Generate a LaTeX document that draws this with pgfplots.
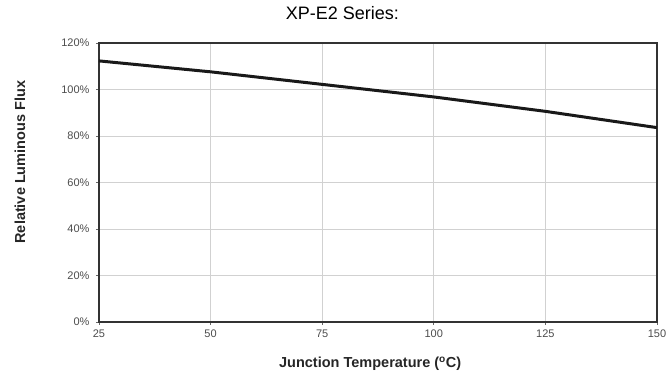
\documentclass[border=0pt]{standalone}
\usepackage{pgfplots}
\pgfplotsset{compat=1.18}
\usepackage{fontspec}
\setmainfont{Liberation Sans}
\begin{document}
\begin{tikzpicture}
\begin{axis}[
  name=ax,
  at={(0,0)}, anchor=south west,
  scale only axis,
  width=558pt, height=279pt,
  xmin=25, xmax=150, ymin=0, ymax=120,
  xtick={25,50,75,100,125,150},
  ytick={0,20,40,60,80,100,120},
  yticklabel={\pgfmathprintnumber{\tick}\%},
  /pgf/number format/assume math mode=true,
  grid=major,
  major grid style={draw=black!18, line width=0.9pt},
  axis line style={draw=black!80, line width=1.1pt},
  tick style={draw=black!60, line width=0.8pt},
  major tick length=3pt,
  tick align=outside,
  xtick pos=bottom, ytick pos=left,
  ticklabel style={font=\fontsize{11}{12}\selectfont, text=black!70},
  xticklabel style={yshift=-1pt},
  yticklabel style={xshift=-3pt},
  xlabel={\textbf{Junction Temperature (\textsuperscript{o}C)}},
  ylabel={\textbf{Relative Luminous Flux}},
  label style={font=\fontsize{14.5}{16}\selectfont, text=black!85},
  xlabel style={at={(axis description cs:0.486,-0.149)}, anchor=center},
  ylabel style={at={(axis description cs:-0.1416,0.573)}, anchor=center},
  title={XP-E2 Series:},
  title style={font=\fontsize{18}{20}\selectfont, at={(axis description cs:0.436,1.084)}, anchor=center},
]
\addplot[black!90, line width=3pt] coordinates {
(25,112.3) (50,107.6) (75,102.2) (100,96.8) (125,90.6) (150,83.6)
};
\end{axis}
\pgfresetboundingbox
\path (ax.south west) ++(-99pt,-52pt) coordinate (bl);
\path (ax.north east) ++(13pt,43pt) coordinate (tr);
\path (bl) rectangle (tr);
\end{tikzpicture}
\end{document}
